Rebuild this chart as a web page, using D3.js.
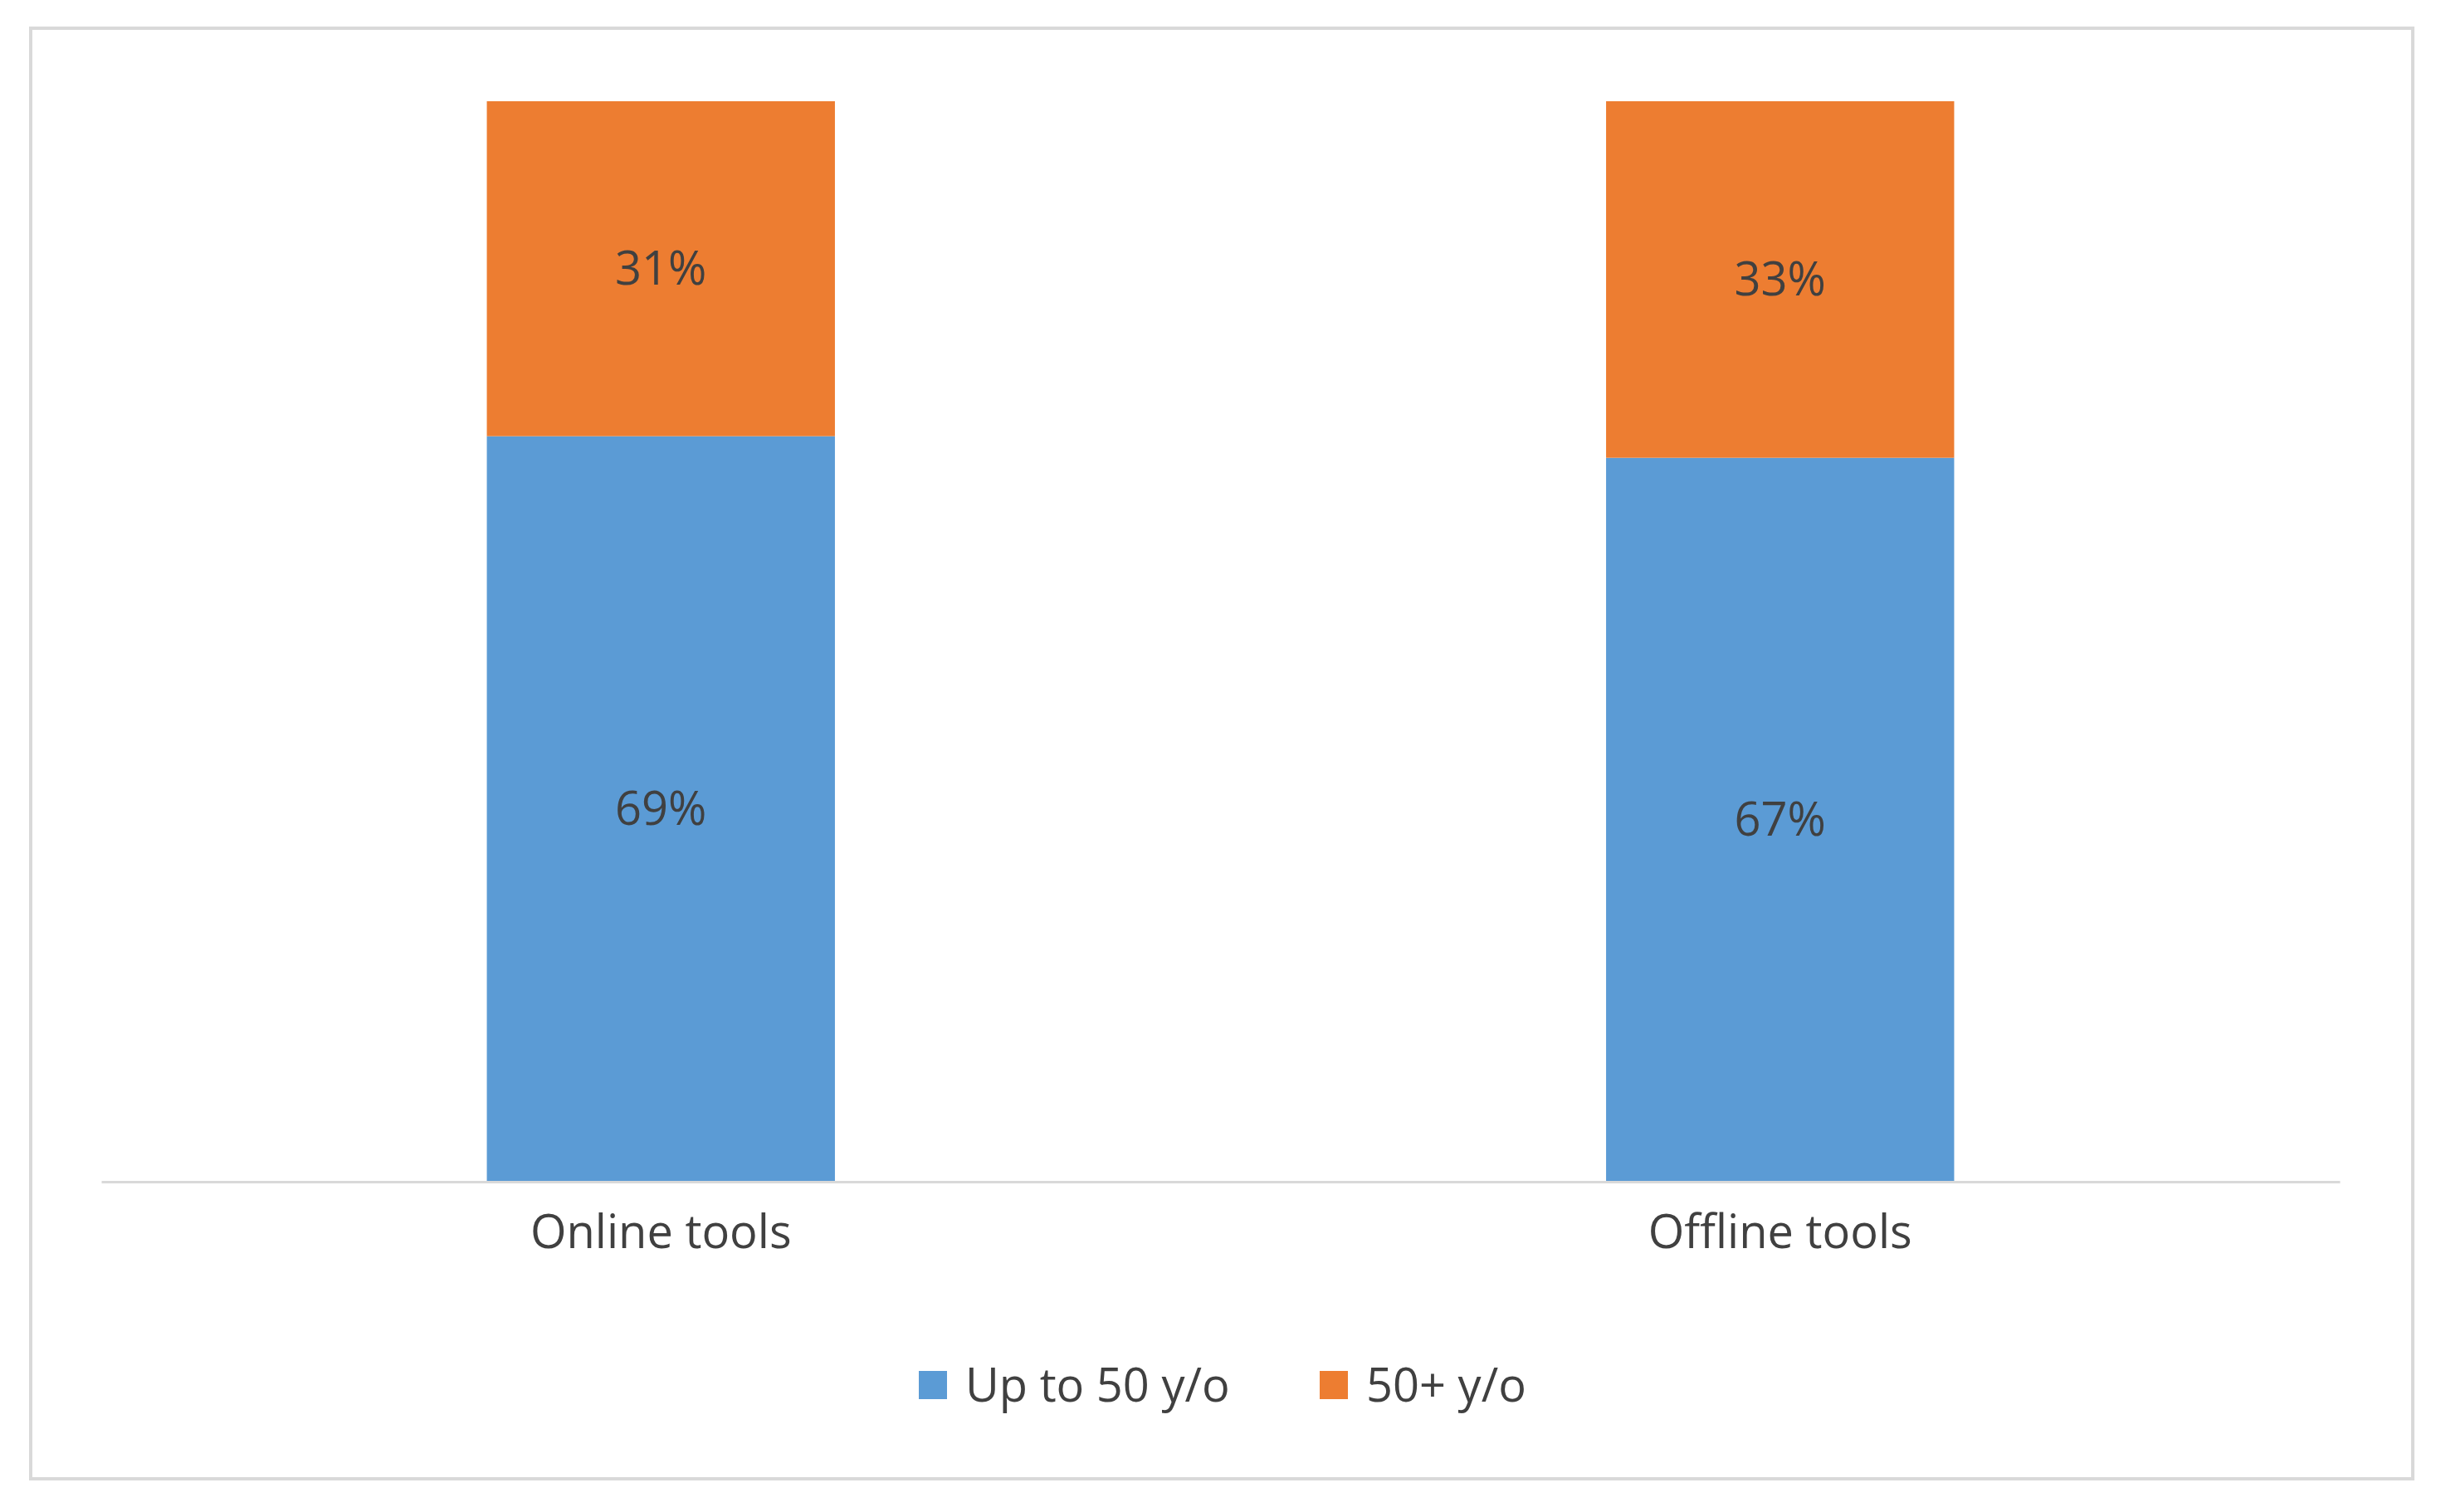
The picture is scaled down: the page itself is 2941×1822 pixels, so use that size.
<!DOCTYPE html>
<html>
<head>
<meta charset="utf-8">
<script src="https://cdn.jsdelivr.net/npm/d3@7"></script>
<style>
  html, body { margin: 0; padding: 0; background: #fff; }
</style>
</head>
<body>
<div id="chart"></div>
<script>
// Data
const categories = ['Online tools', 'Offline tools'];
const series_names = ['Up to 50 y/o', '50+ y/o'];
const series_colors = ['#5B9BD5', '#ED7D31'];
const up_to_50 = [0.69, 0.67];
const over_50 = [0.31, 0.33];

const svg_width = 2941, svg_height = 1822;
const text_color = '#404040';
const font = '"Open Sans", "Liberation Sans", sans-serif';

const svg = d3.select('#chart').append('svg')
    .attr('width', svg_width)
    .attr('height', svg_height)
    .style('display', 'block');

// Chart border
svg.append('rect')
    .attr('x', 37).attr('y', 34)
    .attr('width', 2870).attr('height', 1748)
    .attr('fill', '#fff')
    .attr('stroke', '#d9d9d9')
    .attr('stroke-width', 4);

const x_scale = d3.scaleBand()
    .domain(categories)
    .range([122, 2819])
    .paddingInner(0.689)
    .paddingOuter(0.3445);

const y_scale = d3.scaleLinear().domain([0, 1]).range([1424, 122]);

const rows = categories.map((c, i) => ({cat: c, vals: [up_to_50[i], over_50[i]]}));
const stacked = d3.stack().keys([0, 1]).value((d, k) => d.vals[k])(rows);

stacked.forEach((layer, k) => {
    const g = svg.append('g');
    g.selectAll('rect')
        .data(layer)
        .enter()
        .append('rect')
        .attr('x', d => x_scale(d.data.cat))
        .attr('width', x_scale.bandwidth())
        .attr('y', d => y_scale(d[1]))
        .attr('height', d => y_scale(d[0]) - y_scale(d[1]))
        .attr('fill', series_colors[k]);

    g.selectAll('text')
        .data(layer)
        .enter()
        .append('text')
        .attr('x', d => x_scale(d.data.cat) + x_scale.bandwidth() / 2)
        .attr('y', d => y_scale((d[0] + d[1]) / 2))
        .attr('dy', '0.35em')
        .attr('text-anchor', 'middle')
        .style('font-family', font)
        .style('font-size', '56px')
        .style('fill', text_color)
        .text(d => Math.round((d[1] - d[0]) * 100) + '%');
});

// Category axis
const x_axis = d3.axisBottom(x_scale).tickSize(0).tickPadding(40);
const ax = svg.append('g')
    .attr('transform', `translate(0,${y_scale(0)})`)
    .call(x_axis);
ax.select('path').attr('stroke', '#d9d9d9').attr('stroke-width', 3);
ax.selectAll('text')
    .style('font-family', font)
    .style('font-size', '56px')
    .style('fill', text_color);

// Legend
const legend_x = [1107, 1590];
const legend = svg.append('g');
series_names.forEach((name, i) => {
    legend.append('rect')
        .attr('x', legend_x[i]).attr('y', 1652)
        .attr('width', 34).attr('height', 34)
        .attr('fill', series_colors[i]);
    legend.append('text')
        .attr('x', legend_x[i] + 56).attr('y', 1669)
        .attr('dy', '0.35em')
        .style('font-family', font)
        .style('font-size', '56px')
        .style('fill', text_color)
        .text(name);
});
</script>
</body>
</html>
